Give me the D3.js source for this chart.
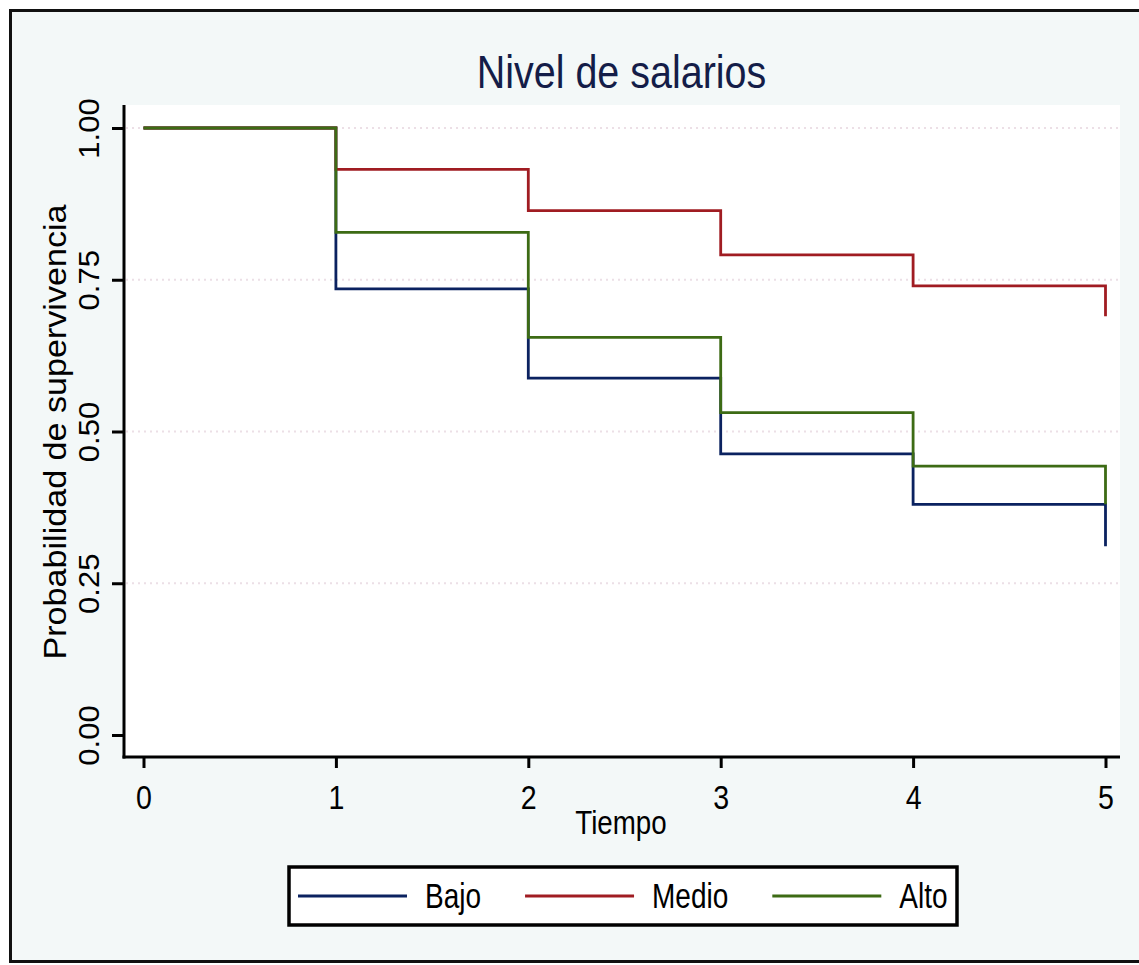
<!DOCTYPE html>
<html>
<head>
<meta charset="utf-8">
<script src="https://cdn.jsdelivr.net/npm/d3@7"></script>
<style>
  body { margin: 0; background: #fff; }
  svg { display: block; font-family: "Liberation Sans", Arial, sans-serif; }
</style>
</head>
<body>
<div id="chart"></div>
<script>
'use strict';

// Kaplan-Meier estimates
var times = [0, 1, 2, 3, 4, 5];
var bajo  = [1, 0.735, 0.588, 0.463, 0.380, 0.311];
var medio = [1, 0.932, 0.864, 0.791, 0.740, 0.690];
var alto  = [1, 0.828, 0.655, 0.531, 0.443, 0.380];
var seriesNames = ['Bajo', 'Medio', 'Alto'];
var yTicks = [0, 0.25, 0.5, 0.75, 1];
var xTicks = [0, 1, 2, 3, 4, 5];

var W = 1139, H = 965;
var plot = { left: 124, right: 1120, top: 105, bottom: 757 };
var colors = ['#0b2260', '#a01c22', '#3d6b14'];
var SQUASH = 0.84; // the source image is stretched vertically

var svg = d3.select('#chart').append('svg')
    .attr('width', W)
    .attr('height', H);

// outer graph region
svg.append('rect')
    .attr('x', 10.5).attr('y', 10.5)
    .attr('width', W + 20).attr('height', 951)
    .attr('fill', '#f3f8f8')
    .attr('stroke', '#111')
    .attr('stroke-width', 3);

// plot region
svg.append('rect')
    .attr('x', plot.left).attr('y', plot.top)
    .attr('width', plot.right - plot.left)
    .attr('height', plot.bottom - plot.top)
    .attr('fill', '#fff');

var x = d3.scaleLinear().domain([0, 5]).range([143.5, 1105.5]);
var y = d3.scaleLinear().domain([0, 1]).range([735, 128]);

function squash(sel, k) {
  sel.each(function() {
    var len = this.getComputedTextLength();
    d3.select(this).attr('textLength', len * k).attr('lengthAdjust', 'spacingAndGlyphs');
  });
}

// grid
svg.append('g')
  .selectAll('line')
  .data(yTicks.filter(function(d) { return d > 0; }))
  .enter().append('line')
    .attr('x1', plot.left + 2).attr('x2', plot.right)
    .attr('y1', function(d) { return y(d); })
    .attr('y2', function(d) { return y(d); })
    .attr('stroke', '#ecdfe6')
    .attr('stroke-width', 2)
    .attr('stroke-dasharray', '2,4');

// y axis
var yAxis = d3.axisLeft(y)
    .tickValues(yTicks)
    .tickSize(12)
    .tickSizeOuter(0)
    .tickFormat(d3.format('.2f'));

var gy = svg.append('g')
    .attr('transform', 'translate(' + plot.left + ',0)')
    .call(yAxis);
gy.select('.domain').remove();
gy.selectAll('.tick line').attr('stroke', '#000').attr('stroke-width', 3);
gy.selectAll('.tick text')
    .attr('transform', 'rotate(-90)')
    .attr('x', 0).attr('y', -25).attr('dy', 0)
    .attr('text-anchor', 'middle')
    .attr('fill', '#000')
    .style('font-size', '29px')
    .call(squash, 1.07);

// x axis
var xAxis = d3.axisBottom(x)
    .tickValues(xTicks)
    .tickSize(11)
    .tickSizeOuter(0)
    .tickFormat(d3.format('d'));

var gx = svg.append('g')
    .attr('transform', 'translate(0,' + plot.bottom + ')')
    .call(xAxis);
gx.select('.domain').remove();
gx.selectAll('.tick line').attr('stroke', '#000').attr('stroke-width', 3);
gx.selectAll('.tick text')
    .attr('y', 52).attr('dy', 0)
    .attr('fill', '#000')
    .style('font-size', '34px')
    .call(squash, SQUASH);

// axis lines
svg.append('line')
    .attr('x1', plot.left).attr('x2', plot.left)
    .attr('y1', plot.top).attr('y2', plot.bottom + 1.5)
    .attr('stroke', '#000').attr('stroke-width', 3);
svg.append('line')
    .attr('x1', plot.left - 1.5).attr('x2', plot.right)
    .attr('y1', plot.bottom).attr('y2', plot.bottom)
    .attr('stroke', '#000').attr('stroke-width', 3);

// survival curves
var line = d3.line()
    .curve(d3.curveStepAfter)
    .x(function(d) { return x(d.t); })
    .y(function(d) { return y(d.s); });

var curves = [bajo, medio, alto].map(function(vals, i) {
  return { name: seriesNames[i], values: times.map(function(t, j) { return { t: t, s: vals[j] }; }) };
});

svg.append('g')
  .selectAll('path')
  .data(curves)
  .enter().append('path')
    .attr('d', function(d) { return line(d.values); })
    .attr('fill', 'none')
    .attr('stroke', function(d, i) { return colors[i]; })
    .attr('stroke-width', 2.8);

// titles
svg.append('text')
    .attr('x', 621.5).attr('y', 88)
    .attr('text-anchor', 'middle')
    .attr('fill', '#141d48')
    .style('font-size', '47px')
    .text('Nivel de salarios')
    .call(squash, SQUASH);

svg.append('text')
    .attr('x', 621).attr('y', 834)
    .attr('text-anchor', 'middle')
    .attr('fill', '#000')
    .style('font-size', '33px')
    .text('Tiempo')
    .call(squash, SQUASH);

svg.append('text')
    .attr('transform', 'translate(66,432) rotate(-90)')
    .attr('text-anchor', 'middle')
    .attr('fill', '#000')
    .style('font-size', '31px')
    .text('Probabilidad de supervivencia')
    .call(squash, 1.1);

// legend
svg.append('rect')
    .attr('x', 289).attr('y', 867)
    .attr('width', 668).attr('height', 58)
    .attr('fill', '#fff')
    .attr('stroke', '#000')
    .attr('stroke-width', 3.5);

var lx = 298;
curves.forEach(function(c, i) {
  svg.append('line')
      .attr('x1', lx).attr('x2', lx + 109)
      .attr('y1', 896).attr('y2', 896)
      .attr('stroke', colors[i])
      .attr('stroke-width', 3);
  var t = svg.append('text')
      .attr('x', lx + 127).attr('y', 908)
      .attr('fill', '#000')
      .style('font-size', '35px')
      .text(c.name)
      .call(squash, 0.8);
  lx = lx + 127 + +t.attr('textLength') + 44;
});
</script>
</body>
</html>
